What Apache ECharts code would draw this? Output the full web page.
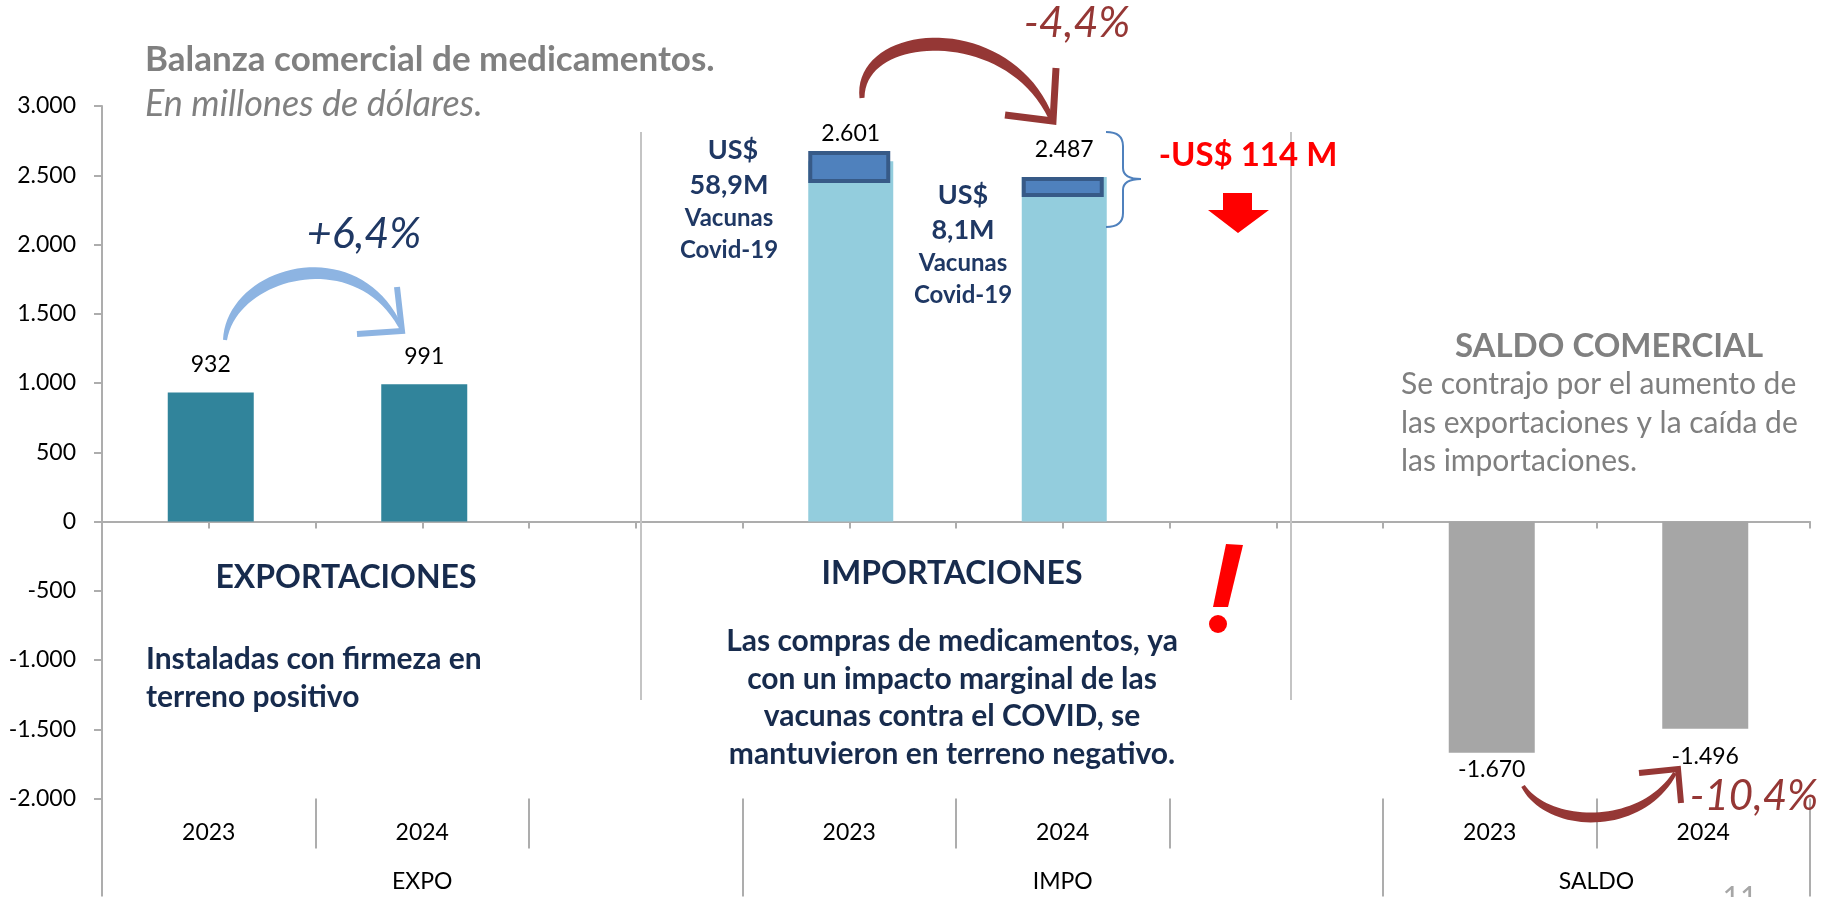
<!DOCTYPE html>
<html>
<head>
<meta charset="utf-8">
<script src="https://cdn.jsdelivr.net/npm/echarts@6/dist/echarts.min.js"></script>
<style>
html, body { margin: 0; padding: 0; background: #fff; }
#chart { width: 1825px; height: 897px; }
</style>
</head>
<body>
<div id="chart"></div>
<script>
// categorías del eje (17 posiciones, las barras caen en 1,3 / 7,9 / 13,15)
var categorias = ['', '2023', '', '2024', '', '', '', '2023', '', '2024', '', '', '', '2023', '', '2024', ''];
var grupos = ['', '', '', 'EXPO', '', '', '', '', '', 'IMPO', '', '', '', '', 'SALDO', '', ''];
var posExpo = [1, 3];
var posImpo = [7, 9];
var posSaldo = [13, 15];

var expo = [932, 991];
var impo = [2601, 2487];
var saldo = [-1670, -1496];
// recuadro "vacunas Covid-19" dibujado sobre las importaciones
var vacunasTope = [2675, 2487];
var vacunasBase = [2444, 2343];

var divisoresCortos = [2, 4, 8, 10, 14];
var divisoresLargos = [0, 6, 12, 16];

var FONT = 'Lato';
var NAVY = '#172B4D';
var GRIS = '#ADADAD';
var AZUL = '#4F81BD';
var ROJO_OSC = '#953735';

function colocar(pos, vals) {
    var out = categorias.map(function () { return '-'; });
    pos.forEach(function (p, i) { out[p] = vals[i]; });
    return out;
}
function miles(v) {
    var s = Math.abs(v).toString().replace(/\B(?=(\d{3})+(?!\d))/g, '.');
    return (v < 0 ? '-' : '') + s;
}
function txt(text, x, y, size, opts) {
    opts = opts || {};
    return {
        type: 'text', z: 10,
        style: {
            text: text, x: x, y: y,
            fill: opts.color || NAVY,
            fontFamily: FONT, fontSize: size,
            fontWeight: opts.weight || 'normal',
            fontStyle: opts.style || 'normal',
            align: opts.align || 'center',
            verticalAlign: 'middle',
            lineHeight: opts.lh || size * 1.2
        }
    };
}
function trazo(type, shape, color, w) {
    return { type: type, z: 9, shape: shape, style: { stroke: color, lineWidth: w, fill: null } };
}
// arco de flecha con grosor variable (fino en los extremos, grueso al medio)
function arco(p, wExt, wMid, color) {
    var izq = [], der = [];
    for (var k = 0; k <= 40; k++) {
        var t = k / 40, u = 1 - t;
        var x = u*u*u*p[0][0] + 3*u*u*t*p[1][0] + 3*u*t*t*p[2][0] + t*t*t*p[3][0];
        var y = u*u*u*p[0][1] + 3*u*u*t*p[1][1] + 3*u*t*t*p[2][1] + t*t*t*p[3][1];
        var dx = 3*u*u*(p[1][0]-p[0][0]) + 6*u*t*(p[2][0]-p[1][0]) + 3*t*t*(p[3][0]-p[2][0]);
        var dy = 3*u*u*(p[1][1]-p[0][1]) + 6*u*t*(p[2][1]-p[1][1]) + 3*t*t*(p[3][1]-p[2][1]);
        var n = Math.sqrt(dx*dx + dy*dy) || 1;
        var w = (wExt + (wMid - wExt) * Math.sin(Math.PI * t)) / 2;
        izq.push([x - dy / n * w, y + dx / n * w]);
        der.unshift([x + dy / n * w, y - dx / n * w]);
    }
    return { type: 'polygon', z: 9, shape: { points: izq.concat(der) }, style: { fill: color } };
}

var chart = echarts.init(document.getElementById('chart'));

var labelBase = { fontFamily: FONT, fontSize: 23, color: '#000', formatter: function (p) { return miles(p.value); } };

var saldoData = colocar(posSaldo, saldo).map(function (v, i) {
    if (v === '-') return v;
    return { value: v, label: { show: true, position: 'bottom', distance: i === posSaldo[0] ? 5 : 16 } };
});

chart.setOption({
    animation: false,
    grid: { left: 102, right: 15, top: 106, bottom: 98.5, containLabel: false, outerBoundsMode: 'none' },
    xAxis: [{
        type: 'category', data: categorias, boundaryGap: false,
        axisLine: { onZero: true, lineStyle: { color: GRIS, width: 2 } },
        axisTick: { show: true, interval: 0, length: 7, lineStyle: { color: GRIS, width: 2 } },
        axisLabel: { show: false }
    }, {
        type: 'category', data: categorias, boundaryGap: false, position: 'bottom',
        axisLine: { show: false, onZero: false },
        axisTick: { show: true, length: 50, lineStyle: { color: GRIS, width: 2 },
            interval: function (i) { return divisoresCortos.indexOf(i) >= 0; } },
        axisLabel: { show: true, interval: 0, margin: 23, fontFamily: FONT, fontSize: 23, color: '#000' }
    }, {
        type: 'category', data: grupos, boundaryGap: false, position: 'bottom',
        axisLine: { show: false, onZero: false },
        axisTick: { show: true, length: 98, lineStyle: { color: GRIS, width: 2 },
            interval: function (i) { return divisoresLargos.indexOf(i) >= 0; } },
        axisLabel: { show: true, interval: 0, margin: 72, fontFamily: FONT, fontSize: 23, color: '#000' }
    }],
    yAxis: {
        type: 'value', min: -2000, max: 3000, interval: 500,
        splitLine: { show: false },
        axisLine: { show: true, lineStyle: { color: GRIS, width: 2 } },
        axisTick: { show: true, length: 8, lineStyle: { color: GRIS, width: 2 } },
        axisLabel: { margin: 26, fontFamily: FONT, fontSize: 23, color: '#000', formatter: miles }
    },
    series: [{
        name: 'Exportaciones', type: 'bar', barWidth: 86, barGap: '-100%',
        data: colocar(posExpo, expo),
        itemStyle: { color: '#31849B' },
        label: Object.assign({ show: true, position: 'top', distance: 16 }, labelBase)
    }, {
        name: 'Importaciones', type: 'bar', barWidth: 85, barGap: '-100%',
        data: colocar(posImpo, impo),
        itemStyle: { color: '#93CDDD' },
        label: Object.assign({ show: true, position: 'top', distance: 16 }, labelBase)
    }, {
        name: 'Saldo', type: 'bar', barWidth: 86, barGap: '-100%',
        data: saldoData,
        itemStyle: { color: '#A6A6A6' },
        label: labelBase
    }, {
        name: 'base', type: 'bar', stack: 'vac', barWidth: 82, barGap: '-100%', silent: true,
        data: colocar(posImpo, vacunasBase),
        itemStyle: { color: 'rgba(0,0,0,0)' }
    }, {
        name: 'Vacunas Covid-19', type: 'bar', stack: 'vac', barWidth: 82, barGap: '-100%',
        data: colocar(posImpo, vacunasTope.map(function (t, i) { return t - vacunasBase[i]; })),
        itemStyle: { color: AZUL, borderColor: '#375A87', borderWidth: 4 }
    }],
    graphic: [
        // separadores
        trazo('line', { x1: 641, y1: 132, x2: 641, y2: 700 }, '#C4C4C4', 2),
        trazo('line', { x1: 1291, y1: 132, x2: 1291, y2: 700 }, '#C4C4C4', 2),

        // títulos
        txt('Balanza comercial de medicamentos.', 145, 60, 35, { color: '#808080', weight: 'bold', align: 'left' }),
        txt('En millones de dólares.', 145, 104, 36, { color: '#808080', style: 'italic', align: 'left' }),

        // flecha exportaciones
        arco([[225, 340], [232, 272], [355, 238], [400, 326]], 4, 12, '#8DB4E2'),
        trazo('polyline', { points: [[397, 287], [402, 331], [357, 334]] }, '#8DB4E2', 6),
        txt('+6,4%', 364, 234, 43, { color: '#1F3864', style: 'italic' }),

        // flecha importaciones
        arco([[862, 98], [858, 28], [1008, 18], [1051, 118]], 5, 13, ROJO_OSC),
        trazo('polyline', { points: [[1056, 68], [1053, 121], [1005, 115]] }, ROJO_OSC, 7),
        txt('-4,4%', 1077, 23, 43, { color: ROJO_OSC, style: 'italic' }),

        // vacunas
        txt('US$', 733, 150, 27, { weight: 'bold', color: '#1F3864' }),
        txt('58,9M', 729, 185, 27, { weight: 'bold', color: '#1F3864' }),
        txt('Vacunas', 729, 218, 24, { weight: 'bold', color: '#1F3864' }),
        txt('Covid-19', 729, 250, 24, { weight: 'bold', color: '#1F3864' }),
        txt('US$', 963, 195, 27, { weight: 'bold', color: '#1F3864' }),
        txt('8,1M', 963, 230, 27, { weight: 'bold', color: '#1F3864' }),
        txt('Vacunas', 963, 263, 24, { weight: 'bold', color: '#1F3864' }),
        txt('Covid-19', 963, 295, 24, { weight: 'bold', color: '#1F3864' }),

        // llave y caída
        trazo('bezierCurve', { x1: 1106, y1: 132, cpx1: 1123, cpy1: 132, x2: 1123, y2: 146 }, AZUL, 2),
        trazo('line', { x1: 1123, y1: 146, x2: 1123, y2: 168 }, AZUL, 2),
        trazo('bezierCurve', { x1: 1123, y1: 168, cpx1: 1123, cpy1: 179, x2: 1141, y2: 179 }, AZUL, 2),
        trazo('bezierCurve', { x1: 1141, y1: 179, cpx1: 1123, cpy1: 179, x2: 1123, y2: 190 }, AZUL, 2),
        trazo('line', { x1: 1123, y1: 190, x2: 1123, y2: 213 }, AZUL, 2),
        trazo('bezierCurve', { x1: 1123, y1: 213, cpx1: 1123, cpy1: 227, x2: 1106, y2: 227 }, AZUL, 2),
        txt('-US$ 114 M', 1248, 155, 33, { color: '#FF0000', weight: 'bold' }),
        { type: 'polygon', z: 9, shape: { points: [[1223, 193], [1252, 193], [1252, 210], [1269, 210], [1238, 233], [1208, 210], [1223, 210]] },
          style: { fill: '#FF0000' } },

        // signo de exclamación
        { type: 'polygon', z: 9, shape: { points: [[1226, 544], [1243, 545], [1228, 607], [1213, 607]] }, style: { fill: '#FF0000' } },
        { type: 'circle', z: 9, shape: { cx: 1218, cy: 624, r: 9 }, style: { fill: '#FF0000' } },

        // textos de bloques
        txt('EXPORTACIONES', 346, 578, 32, { weight: 'bold' }),
        txt('Instaladas con firmeza en\nterreno positivo', 146, 678, 30, { weight: 'bold', align: 'left', lh: 38 }),
        txt('IMPORTACIONES', 952, 574, 32, { weight: 'bold' }),
        txt('Las compras de medicamentos, ya\ncon un impacto marginal de las\nvacunas contra el COVID, se\nmantuvieron en terreno negativo.', 952, 698, 30, { weight: 'bold', lh: 37.5 }),
        txt('SALDO COMERCIAL', 1609, 346, 33, { weight: 'bold', color: '#808080' }),
        txt('Se contrajo por el aumento de\nlas exportaciones y la caída de\nlas importaciones.', 1401, 423, 30, { color: '#7F7F7F', align: 'left', lh: 38.5 }),

        // flecha saldo
        arco([[1523, 786], [1548, 828], [1640, 832], [1675, 773]], 4, 10, ROJO_OSC),
        trazo('polyline', { points: [[1639, 773], [1678, 769], [1681, 803]] }, ROJO_OSC, 6),
        txt('-10,4%', 1754, 796, 42, { color: ROJO_OSC, style: 'italic' }),

        txt('11', 1740, 898, 30, { color: '#A6A6A6' })
    ]
});
</script>
</body>
</html>
